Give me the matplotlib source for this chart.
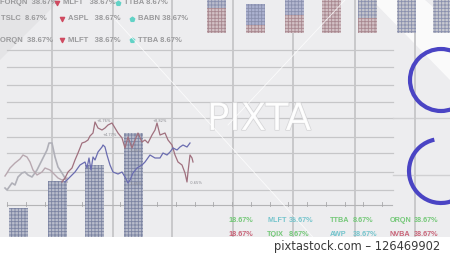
import numpy as np
import matplotlib.pyplot as plt
from matplotlib.patches import Arc, Circle, Polygon
import matplotlib.patheffects as pe

FONT = ['Liberation Sans', 'DejaVu Sans']

# ---- dashboard grid (pixel space of the frame)
grid_x = [52, 113, 172, 233, 293, 355, 415]
row_y = [50, 67, 85, 102, 118, 137, 153, 172, 190]

# ---- price lines
gray_x = [5, 7, 12, 15, 18, 22, 25, 28, 32, 37, 42, 47, 49, 52, 55, 58, 62, 65, 67]
gray_y = [188, 190, 183, 185, 177, 173, 172, 175, 177, 170, 160, 150, 143, 143, 157, 167, 173, 178, 182]
mauve_x = [5, 7, 10, 15, 20, 23, 27, 30, 33, 37, 42, 45, 50, 53, 58, 62, 67]
mauve_y = [176, 173, 168, 163, 159, 155, 157, 162, 170, 175, 172, 168, 170, 173, 178, 180, 178]
red_x = [62, 65, 68, 72, 75, 78, 80, 82, 85, 88, 90, 93, 95, 98, 102, 105, 108, 112, 115, 118,
         122, 125, 128, 132, 135, 138, 142, 145, 148, 152, 155, 157, 160, 165, 168, 172, 175,
         178, 182, 185, 187, 188, 190, 192, 193]
red_y = [182, 178, 172, 168, 160, 153, 148, 143, 142, 140, 136, 133, 122, 128, 130, 128, 125,
         123, 128, 133, 138, 148, 137, 148, 140, 133, 142, 140, 143, 135, 130, 123, 135, 133,
         140, 145, 155, 162, 165, 173, 182, 172, 155, 158, 162]
blue_x = [65, 70, 75, 80, 85, 87, 89, 91, 93, 95, 98, 102, 103, 105, 107, 110, 113, 118, 122,
          125, 128, 130, 133, 137, 142, 145, 150, 155, 160, 163, 167, 170, 173, 177, 180, 183,
          187, 190]
blue_y = [182, 177, 172, 165, 162, 168, 158, 170, 157, 160, 152, 147, 145, 147, 155, 165, 172,
          174, 172, 177, 183, 180, 173, 168, 165, 162, 155, 158, 158, 153, 155, 152, 148, 150,
          147, 145, 147, 143]
peak_labels = ['+6.76%', '+4.77%', '-3.65%', '+8.82%', '-3.65%', '-0.65%']
peak_x = [97, 103, 130, 153, 130, 190]
peak_y = [121, 135, 151, 121, 184, 183]

# ---- dotted volume bars
vol_left = [9, 48, 85, 124]
vol_top = [208, 181, 165, 133]
vol_base = 237

# ---- top dotted bars: blue/gray part over red part
top_left = [207, 246, 285, 322, 358, 397, 433]
top_start = [0, 4, 0, 0, 0, 0, 0]
top_split = [8, 25, 15, 0, 18, 33, 33]
top_upper_face = ['#b9bccc', '#acb2d0', '#b4b8d0', '#d0c2c4', '#c4c5cc', '#c6c7ce', '#c8c9d0']
top_base = 33

# ---- ticker table, top left
tick_rows_y = [3, 19, 40]
col1_name = ['FORQN', 'TSLC', 'ORQN']
col1_val = ['38.67%', '8.67%', '38.67%']
col1_x = [0, 1, 0]
col2_name = ['MLFT', 'ASPL', 'MLFT']
col2_val = ['38.67%', '38.67%', '38.67%']
col2_mark = [57, 62, 62]
col3_name = ['TTBA', 'BABN', 'TTBA']
col3_val = ['8.67%', '38.67%', '8.67%']
col3_mark = [118, 132, 132]

# ---- ticker table, bottom right
bot_rows_y = [221, 234]
bot_names = [['', 'MLFT', 'TTBA', 'ORQN'], ['', 'TQIX', 'AWP', 'NVBA']]
bot_vals = [['18.67%', '38.67%', '8.67%', '38.67%'], ['18.67%', '8.67%', '38.67%', '38.67%']]
bot_name_col = [['', '#74c4cc', '#74c878', '#74c878'], ['', '#74c878', '#74c4cc', '#c86478']]
bot_val_col = [['#74c878', '#74c4cc', '#74c878', '#74c878'], ['#c86478', '#74c878', '#74c4cc', '#c86478']]
bot_name_x = [228, 267, 330, 390]
bot_val_x = [228, 289, 353, 414]

plt.rcParams['hatch.linewidth'] = 0.6

fig = plt.figure(figsize=(4.5, 2.56), dpi=100)
ax = fig.add_axes([0, 0, 1, 1])
ax.set_xlim(0, 450)
ax.set_ylim(256, 0)
ax.axis('off')

# backdrop
ax.add_patch(plt.Rectangle((0, 0), 450, 237, facecolor='#ededef', edgecolor='none', zorder=0))
ax.add_patch(Polygon([(0, 0), (60, 0), (0, 60)], closed=True, facecolor='#dedee0',
                     edgecolor='none', alpha=0.6, zorder=0))
ax.add_patch(Polygon([(372, 0), (425, 0), (450, 22), (450, 80)], closed=True,
                     facecolor='white', edgecolor='none', alpha=0.75, zorder=0.5))

for y in row_y:
    ax.plot([7, 393], [y, y], color='#c6c6c8', lw=0.9, zorder=1)
for y in [118, 175]:
    ax.plot([393, 450], [y, y], color='#d0d0d2', lw=1.0, zorder=1)
for x in grid_x:
    ax.plot([x, x], [0, 237], color='#c8c8ca', lw=1.4, zorder=1)

# axis with ticks
ax.plot([7, 392], [205, 205], color='#b4b4b6', lw=0.8, zorder=1)
for x in np.arange(7, 393, 18.75):
    ax.plot([x, x], [202, 206], color='#a8a8aa', lw=0.6, zorder=1)

# volume bars
ax.bar(vol_left, [vol_base - t for t in vol_top], bottom=vol_top, width=19, align='edge',
       facecolor='#b8bccb', edgecolor='#7c84a2', hatch='+++++', lw=0, zorder=2)

# top bars
ax.bar(top_left, [s - b for s, b in zip(top_split, top_start)], bottom=top_start, width=19,
       align='edge', facecolor=top_upper_face, edgecolor='#8a90ae', hatch='+++++', lw=0, zorder=2)
ax.bar(top_left, [top_base - s for s in top_split], bottom=top_split, width=19,
       align='edge', facecolor='#d2c0c4', edgecolor='#a88890', hatch='+++++', lw=0, zorder=2)

# price lines
ax.plot(gray_x, gray_y, color='#b0b0b8', lw=1.2, zorder=3)
ax.plot(mauve_x, mauve_y, color='#b8a8b0', lw=1.0, zorder=3)
ax.plot(red_x, red_y, color='#a0707e', lw=0.9, zorder=4)
ax.plot(blue_x, blue_y, color='#6a6cb0', lw=0.9, zorder=4)
for s, x, y in zip(peak_labels, peak_x, peak_y):
    ax.text(x, y, s, fontsize=2.6, color='#8a8a90', ha='left', va='center', zorder=5)

# rings
ax.add_patch(Circle((441, 80), 31, fill=False, edgecolor='#4a44c4', lw=3.0, zorder=4))
ax.add_patch(Arc((441, 171), 64, 64, theta1=20, theta2=258, edgecolor='#4a44c4', lw=3.0,
                 zorder=4))

# ticker table top left
txt = dict(fontsize=5.5, color='#9a9a9c', fontweight='bold', va='center', family=FONT, zorder=5)
for i, y in enumerate(tick_rows_y):
    ax.text(col1_x[i], y, col1_name[i] + '  ' + col1_val[i], **txt)
    ax.scatter([col2_mark[i]], [y - 0.5], marker='v', s=9, color='#cf4a60', zorder=5)
    ax.text(col2_mark[i] + 6, y, col2_name[i] + '   ' + col2_val[i], **txt)
    ax.scatter([col3_mark[i]], [y], marker='p', s=11, color='#62d2c6', zorder=5)
    ax.text(col3_mark[i] + 6, y, col3_name[i] + ' ' + col3_val[i], **txt)

# ticker table bottom right
for r, y in enumerate(bot_rows_y):
    for c in range(4):
        if bot_names[r][c]:
            ax.text(bot_name_x[c], y, bot_names[r][c], fontsize=5.2, fontweight='bold',
                    color=bot_name_col[r][c], va='center', family=FONT, zorder=5)
        ax.text(bot_val_x[c], y, bot_vals[r][c], fontsize=5.2, fontweight='bold',
                color=bot_val_col[r][c], va='center', family=FONT, zorder=5)

# watermark
ax.text(259, 120, 'PIXTA', fontsize=27, color='white', ha='center', va='center', alpha=0.85,
        path_effects=[pe.withStroke(linewidth=1.0, foreground='#cfcfd1')], zorder=6)
ax.plot([345, 228], [0, 125], color='white', lw=0.6, alpha=0.8, zorder=6)
ax.plot([113, 330], [17, 256], color='white', lw=0.6, alpha=0.8, zorder=6)
ax.add_patch(plt.Rectangle((0, 237), 450, 19, facecolor='white', edgecolor='none', zorder=7))
ax.text(440, 246.5, 'pixtastock.com \u2013 126469902', fontsize=8.3, color='#3a3a3a',
        ha='right', va='center', zorder=8)

fig.savefig('out.png', dpi=100)
